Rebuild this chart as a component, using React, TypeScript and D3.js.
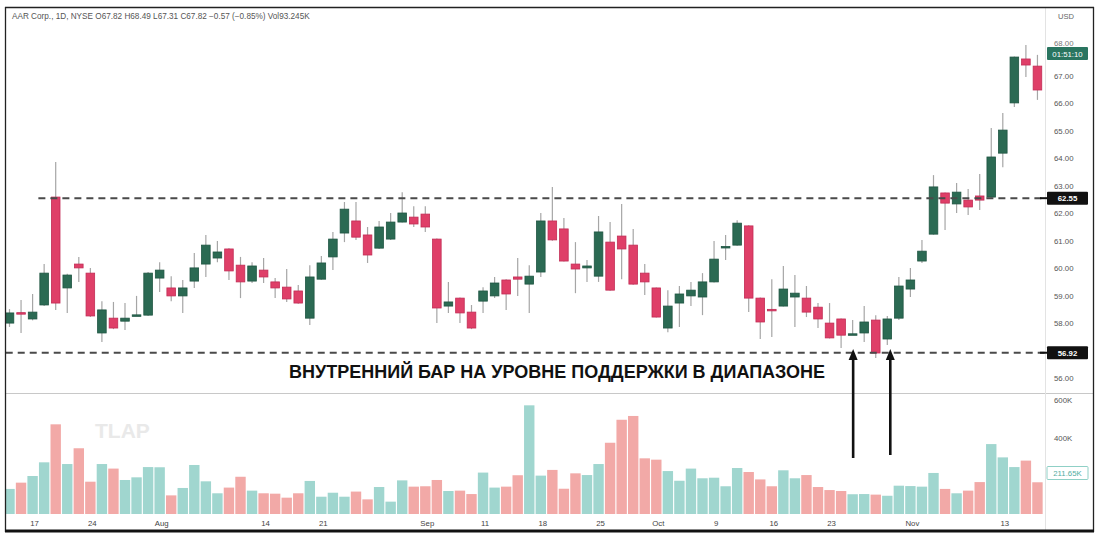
import React from "react";
import * as d3 from "d3";

const dates = [
  "Jul 13","Jul 14","Jul 17","Jul 18","Jul 19","Jul 20","Jul 21","Jul 24","Jul 25","Jul 26",
  "Jul 27","Jul 28","Jul 31","Aug 1","Aug 2","Aug 3","Aug 4","Aug 7","Aug 8","Aug 9",
  "Aug 10","Aug 11","Aug 14","Aug 15","Aug 16","Aug 17","Aug 18","Aug 21","Aug 22","Aug 23",
  "Aug 24","Aug 25","Aug 28","Aug 29","Aug 30","Aug 31","Sep 1","Sep 5","Sep 6","Sep 7",
  "Sep 8","Sep 11","Sep 12","Sep 13","Sep 14","Sep 15","Sep 18","Sep 19","Sep 20","Sep 21",
  "Sep 22","Sep 25","Sep 26","Sep 27","Sep 28","Sep 29","Oct 2","Oct 3","Oct 4","Oct 5",
  "Oct 6","Oct 9","Oct 10","Oct 11","Oct 12","Oct 13","Oct 16","Oct 17","Oct 18","Oct 19",
  "Oct 20","Oct 23","Oct 24","Oct 25","Oct 26","Oct 27","Oct 30","Oct 31","Nov 1","Nov 2",
  "Nov 3","Nov 6","Nov 7","Nov 8","Nov 9","Nov 10","Nov 13","Nov 14","Nov 15","Nov 16",
];

const opens = [
  58.00, 58.38, 58.15, 58.66, 62.59, 59.28, 60.15, 59.82, 57.64, 58.18,
  58.07, 58.28, 58.29, 59.64, 59.28, 58.99, 59.53, 60.15, 60.37, 60.70,
  60.11, 59.53, 59.93, 59.50, 59.31, 59.17, 58.18, 59.60, 60.41, 61.28,
  61.72, 61.21, 60.73, 61.06, 61.68, 61.86, 61.97, 61.06, 58.62, 58.91,
  58.40, 58.80, 58.99, 59.57, 59.68, 59.42, 59.86, 61.72, 61.43, 60.15,
  60.01, 59.71, 60.95, 61.17, 60.84, 59.82, 59.28, 57.82, 58.73, 58.99,
  58.95, 59.50, 60.75, 60.84, 61.54, 58.91, 58.50, 58.62, 58.95, 58.91,
  58.58, 58.00, 58.15, 57.59, 57.64, 58.11, 57.42, 58.18, 59.24, 60.26,
  61.24, 62.74, 62.34, 62.48, 62.63, 62.59, 64.19, 66.02, 67.62, 67.36,
];
const highs = [
  58.51, 58.84, 59.06, 60.15, 63.87, 59.80, 60.41, 60.01, 58.80, 58.77,
  58.73, 58.99, 59.86, 60.22, 59.71, 59.57, 60.55, 61.21, 60.99, 60.73,
  60.41, 60.22, 60.37, 59.64, 59.97, 59.39, 60.11, 60.44, 61.32, 62.41,
  62.41, 61.50, 61.72, 62.01, 62.77, 62.26, 62.26, 61.08, 59.50, 58.93,
  58.66, 59.31, 59.68, 59.60, 60.37, 60.11, 62.01, 62.96, 61.83, 60.95,
  60.30, 61.90, 61.68, 62.34, 61.43, 60.15, 59.30, 59.20, 59.35, 59.50,
  59.82, 60.99, 61.21, 61.75, 61.56, 58.93, 59.60, 60.08, 59.75, 59.35,
  58.73, 58.73, 58.17, 58.11, 58.62, 58.29, 58.26, 59.68, 60.01, 61.03,
  63.39, 62.76, 63.10, 62.88, 63.43, 65.11, 65.65, 67.71, 68.13, 67.77,
];
const lows = [
  57.86, 57.64, 58.10, 58.62, 58.48, 58.37, 59.50, 58.22, 57.31, 57.78,
  57.75, 58.26, 58.26, 59.13, 58.80, 58.37, 59.28, 59.68, 60.22, 59.57,
  58.91, 59.46, 59.46, 58.91, 58.77, 58.70, 57.93, 59.58, 59.93, 60.95,
  61.03, 60.19, 60.70, 61.03, 61.66, 61.50, 61.32, 58.00, 58.37, 58.00,
  57.78, 58.37, 58.91, 58.48, 58.99, 58.37, 59.68, 61.00, 60.24, 59.09,
  59.50, 59.50, 59.18, 59.60, 59.40, 59.02, 58.20, 57.67, 57.86, 58.62,
  58.29, 59.48, 60.30, 60.82, 58.40, 57.42, 57.49, 58.60, 57.86, 58.22,
  57.82, 57.44, 57.09, 57.58, 57.31, 56.73, 57.20, 58.11, 58.95, 60.19,
  61.22, 61.39, 62.01, 61.94, 62.12, 62.57, 63.68, 65.87, 66.96, 66.13,
];
const closes = [
  58.37, 58.36, 58.40, 59.82, 58.73, 59.75, 60.01, 58.26, 58.48, 57.82,
  58.18, 58.30, 59.82, 59.93, 58.99, 59.28, 60.01, 60.84, 60.59, 59.90,
  59.50, 60.08, 59.68, 59.28, 58.88, 58.73, 59.68, 60.19, 61.06, 62.15,
  61.13, 60.48, 61.50, 61.68, 62.01, 61.61, 61.50, 58.55, 58.77, 58.37,
  57.82, 59.17, 59.46, 59.06, 59.60, 59.71, 61.72, 61.03, 60.26, 59.97,
  60.08, 61.32, 59.20, 60.70, 59.42, 59.50, 58.22, 58.62, 59.06, 59.20,
  59.50, 60.33, 60.79, 61.64, 58.91, 58.04, 58.46, 59.24, 59.09, 58.40,
  58.15, 57.46, 57.56, 57.61, 58.04, 56.91, 58.15, 59.35, 59.57, 60.62,
  62.96, 62.37, 62.77, 62.23, 62.48, 64.05, 65.03, 67.69, 67.40, 66.49,
];
// volume in thousands
const volumes = [
  132, 165, 200, 272, 472, 263, 346, 170, 263, 239,
  179, 193, 247, 246, 98, 137, 258, 172, 109, 139,
  196, 123, 109, 107, 86, 109, 174, 91, 112, 91,
  118, 77, 142, 65, 177, 144, 146, 179, 121, 123,
  105, 218, 139, 144, 204, 572, 202, 232, 133, 214,
  205, 263, 375, 496, 516, 293, 286, 226, 175, 239,
  188, 191, 146, 242, 221, 182, 146, 230, 188, 205,
  142, 126, 121, 104, 105, 102, 96, 149, 147, 144,
  216, 132, 109, 123, 168, 368, 298, 247, 281, 167,
];

const xTickDates = ["Jul 17","Jul 24","Aug 1","Aug 14","Aug 21","Sep 1","Sep 11","Sep 18","Sep 25","Oct 2","Oct 9","Oct 16","Oct 23","Nov 1","Nov 13"];
const xTickLabels = ["17","24","Aug","14","21","Sep","11","18","25","Oct","9","16","23","Nov","13"];
const priceTicks = [56, 58, 59, 60, 61, 62, 63, 64, 65, 66, 67];
const topTick = 68;
const volTicks = [400, 600];
const levelValues = [62.55, 56.92];
const levelStartDates = ["Jul 18", "Jul 13"];
const arrowDates = ["Oct 25", "Oct 30"];

const header = "AAR Corp., 1D, NYSE  O67.82  H68.49  L67.31  C67.82  −0.57 (−0.85%)  Vol93.245K";
const annotation = "ВНУТРЕННИЙ БАР НА УРОВНЕ ПОДДЕРЖКИ В ДИАПАЗОНЕ";

const W = 1102, H = 536;
const AXIS_X = 1045;
const UP = "#2b6a53", UP_STROKE = "#1f5542";
const DOWN = "#df3f68", DOWN_STROKE = "#c22c55";
const VUP = "#a0d6cf", VDOWN = "#f2a9a7";
const FONT = "'Liberation Sans', Arial, sans-serif";

export default function App() {
  const step = 11.55;
  const x0 = 9.5 - step / 2;
  const x = d3.scaleBand<string>().domain(dates).range([x0, x0 + step * dates.length]).padding(0);
  const cx = (d: string) => (x(d) as number) + x.bandwidth() / 2;
  const y = d3.scaleLinear().domain([56, 67]).range([378, 76]);
  const yv = d3.scaleLinear().domain([0, 600]).range([514, 400]);
  const bodyW = 8.6;
  const volW = 10.4;

  return (
    <svg width={W} height={H} style={{ position: "absolute", left: 0, top: 0, background: "#fff" }} fontFamily={FONT}>
      <defs>
        <clipPath id="pricePane"><rect x={6} y={8} width={AXIS_X - 6} height={385} /></clipPath>
        <clipPath id="volPane"><rect x={6} y={394} width={AXIS_X - 6} height={125} /></clipPath>
      </defs>
      <rect x={0} y={0} width={W} height={H} fill="#fff" />

      {/* header */}
      <text x={12} y={19} fontSize={8.2} fill="#555">{header}</text>
      <text x={1058} y={19} fontSize={7.6} fill="#666">USD</text>

      {/* separators */}
      <line x1={6} x2={1093} y1={393.5} y2={393.5} stroke="#c8c8c8" strokeWidth={1} />
      <line x1={AXIS_X + 0.5} x2={AXIS_X + 0.5} y1={8} y2={530} stroke="#e3e3e3" strokeWidth={1} />

      {/* price pane */}
      <g clipPath="url(#pricePane)">
        {dates.map((d, i) => {
          const up = closes[i] >= opens[i];
          const top = y(Math.max(opens[i], closes[i]));
          const bot = y(Math.min(opens[i], closes[i]));
          return (
            <g key={d}>
              <line x1={cx(d)} x2={cx(d)} y1={y(highs[i])} y2={y(lows[i])} stroke="#a6a6a6" strokeWidth={1.2} />
              <rect x={cx(d) - bodyW / 2} y={top} width={bodyW} height={Math.max(1.5, bot - top)}
                fill={up ? UP : DOWN} stroke={up ? UP_STROKE : DOWN_STROKE} strokeWidth={0.8} />
            </g>
          );
        })}
        {levelValues.map((v, i) => (
          <line key={v} x1={(x(levelStartDates[i]) as number) + (i === 0 ? 0 : -10)} x2={AXIS_X} y1={y(v)} y2={y(v)}
            stroke="#4a4a4a" strokeWidth={2} strokeDasharray="7 5" />
        ))}
      </g>

      {/* price axis labels */}
      {priceTicks.map((t) => (
        <text key={t} x={1054} y={y(t) + 3} fontSize={7.8} fill="#555">{t.toFixed(2)}</text>
      ))}
      <text x={1054} y={45.5} fontSize={7.8} fill="#777">{topTick.toFixed(2)}</text>
      {levelValues.map((v) => (
        <g key={"l" + v}>
          <line x1={1040} x2={1048} y1={y(v)} y2={y(v)} stroke="#111" strokeWidth={2} />
          <rect x={1047} y={y(v) - 6.5} width={41} height={13} fill="#111" rx={1} />
          <text x={1067.5} y={y(v) + 3} fontSize={7.8} fill="#fff" fontWeight="bold" textAnchor="middle">{v.toFixed(2)}</text>
        </g>
      ))}
      <rect x={1047} y={47} width={41} height={13} fill="#2a7560" rx={1} />
      <text x={1067.5} y={56.5} fontSize={7.8} fill="#fff" textAnchor="middle">01:51:10</text>

      {/* volume pane */}
      <text x={95} y={438} fontSize={21} fontWeight="bold" fill="#e9e9e9">TLAP</text>
      <g clipPath="url(#volPane)">
        {dates.map((d, i) => (
          <rect key={"v" + d} x={cx(d) - volW / 2} y={yv(volumes[i])} width={volW} height={yv(0) - yv(volumes[i])}
            fill={closes[i] >= opens[i] ? VUP : VDOWN} />
        ))}
      </g>
      {volTicks.map((t) => (
        <text key={"vt" + t} x={1054} y={yv(t) + 3} fontSize={7.8} fill="#555">{t}K</text>
      ))}
      <rect x={1047} y={466.5} width={41} height={13} fill="#fff" stroke="#8fd0c6" strokeWidth={1} rx={1} />
      <text x={1067.5} y={476} fontSize={7.8} fill="#52ad9f" textAnchor="middle">211.65K</text>

      {/* x axis */}
      {xTickDates.map((d, i) => (
        <text key={"x" + d} x={cx(d) + 2} y={526} fontSize={7.8} fill="#444" textAnchor="middle">{xTickLabels[i]}</text>
      ))}

      {/* annotation */}
      <text x={289} y={378} fontSize={18} fontWeight="bold" fill="#111">{annotation}</text>
      {arrowDates.map((d, i) => {
        const ax = cx(d) + (i === 0 ? 0.5 : 3);
        const yTop = 349;
        const yBot = i === 0 ? 458 : 455;
        return (
          <g key={"a" + d}>
            <line x1={ax} x2={ax} y1={yTop + 8} y2={yBot} stroke="#111" strokeWidth={2.6} />
            <path d={`M${ax},${yTop} L${ax - 4.5},${yTop + 11} L${ax + 4.5},${yTop + 11} Z`} fill="#111" />
          </g>
        );
      })}

      {/* frame */}
      <line x1={5} x2={1094} y1={7.5} y2={7.5} stroke="#222" strokeWidth={1.3} />
      <line x1={5.5} x2={5.5} y1={7} y2={532} stroke="#222" strokeWidth={1.3} />
      <line x1={1093.5} x2={1093.5} y1={7} y2={532} stroke="#222" strokeWidth={1.3} />
      <line x1={5} x2={1094} y1={531} y2={531} stroke="#111" strokeWidth={3} />
    </svg>
  );
}
